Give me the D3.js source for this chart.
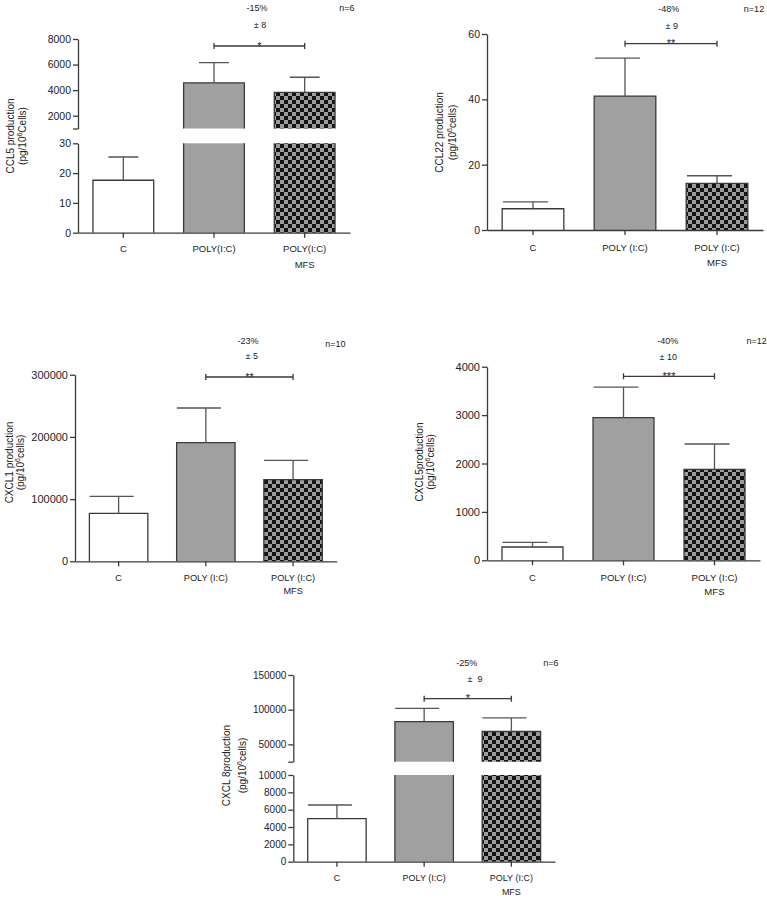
<!DOCTYPE html>
<html><head><meta charset="utf-8">
<script src="https://cdn.jsdelivr.net/npm/d3@7"></script>
<style>
body{margin:0;background:#fff}
svg{display:block}
text{font-family:"Liberation Sans",Arial,sans-serif;fill:#222}
</style>
</head><body>
<svg id="c" width="767" height="899"></svg>
<script>
// ---------------- DATA ----------------
const groupsA = ["C", "POLY(I:C)", "POLY(I:C)"];
const groupsB = ["C", "POLY (I:C)", "POLY (I:C)"];
const subGroups = ["", "", "MFS"];

const ccl5Mean  = [17.6, 4570, 3820];
const ccl5Sem   = [7.8, 1580, 1190];
const ccl22Mean = [6.5, 41.0, 14.3];
const ccl22Sem  = [2.1, 11.6, 2.3];
const cxcl1Mean = [77000, 190700, 131200];
const cxcl1Sem  = [27500, 55800, 31200];
const cxcl5Mean = [275, 2946, 1880];
const cxcl5Sem  = [97, 634, 523];
const cxcl8Mean = [4960, 82860, 68570];
const cxcl8Sem  = [1580, 19040, 19530];

const ccl5TicksLow   = [0, 10, 20, 30];
const ccl5TicksHigh  = [2000, 4000, 6000, 8000];
const ccl22Ticks     = [0, 20, 40, 60];
const cxcl1Ticks     = [0, 100000, 200000, 300000];
const cxcl5Ticks     = [0, 1000, 2000, 3000, 4000];
const cxcl8TicksLow  = [0, 2000, 4000, 6000, 8000, 10000];
const cxcl8TicksHigh = [50000, 100000, 150000];

const pctLabels  = ["-15%", "-48%", "-23%", "-40%", "-25%"];
const pmLabels   = ["\u00b1 8", "\u00b1 9", "\u00b1 5", "\u00b1 10", "\u00b1  9"];
const starLabels = ["*", "**", "**", "***", "*"];
const nLabels    = ["n=6", "n=12", "n=10", "n=12", "n=6"];
const yTitles    = ["CCL5 production", "CCL22 production", "CXCL1 production", "CXCL5production", "CXCL 8production"];
const yUnits     = ["Cells)", "cells)", "cells)", "cells)", "cells)"];

// ---------------- LAYOUT ----------------
const layouts = [
  {mean: ccl5Mean, sem: ccl5Sem, groups: groupsA, x0: 78, x1: 350,
   segments: [{dom: [0, 30], rng: [232.7, 143.3], ticks: ccl5TicksLow},
              {dom: [1000, 8000], rng: [128.5, 39], ticks: ccl5TicksHigh}],
   tickFont: 10.5, catFont: 9.5, capL: -15, capR: 15,
   bracketY: 46, pct: [257, 8], pm: [260, 25], nPos: [347, 8],
   yl1: 10, yl2: 22, ylY: 136, catY: [249, 265]},
  {mean: ccl22Mean, sem: ccl22Sem, groups: groupsB, x0: 487, x1: 763,
   segments: [{dom: [0, 60], rng: [230, 34], ticks: ccl22Ticks}],
   tickFont: 10.5, catFont: 9.5, capL: -30, capR: 15,
   bracketY: 43.7, pct: [668.7, 9], pm: [671.7, 25.7], nPos: [754, 9],
   yl1: 439, yl2: 452.7, ylY: 132.5, catY: [248, 262.7]},
  {mean: cxcl1Mean, sem: cxcl1Sem, groups: groupsB, x0: 75, x1: 336.7,
   segments: [{dom: [0, 300000], rng: [561.3, 374.7], ticks: cxcl1Ticks}],
   tickFont: 11, catFont: 9.2, capL: -29, capR: 15,
   bracketY: 377, pct: [248, 341], pm: [251.7, 356], nPos: [335.3, 344.3],
   yl1: 9.3, yl2: 20.7, ylY: 462.5, catY: [577.7, 591]},
  {mean: cxcl5Mean, sem: cxcl5Sem, groups: groupsB, x0: 487, x1: 760,
   segments: [{dom: [0, 4000], rng: [560.3, 366.7], ticks: cxcl5Ticks}],
   tickFont: 11, catFont: 9.6, capL: -30, capR: 15,
   bracketY: 376.3, pct: [667.7, 341.3], pm: [668.3, 357.3], nPos: [756.7, 341],
   yl1: 419.3, yl2: 430.7, ylY: 462, catY: [577.7, 591.7]},
  {mean: cxcl8Mean, sem: cxcl8Sem, groups: groupsB, x0: 293.3, x1: 555,
   segments: [{dom: [0, 10000], rng: [861.7, 775], ticks: cxcl8TicksLow},
              {dom: [25000, 150000], rng: [761.7, 675], ticks: cxcl8TicksHigh}],
   tickFont: 10, catFont: 9, capL: -29, capR: 15,
   bracketY: 698.7, pct: [466.7, 663.3], pm: [475, 679], nPos: [550.8, 663],
   yl1: 226.7, yl2: 242.7, ylY: 765.5, catY: [878.3, 891.7]}
];

// ---------------- DRAW ----------------
const svg = d3.select("#c");
const defs = svg.append("defs");
const cs = 4;
const pat = defs.append("pattern").attr("id", "checker")
  .attr("patternUnits", "userSpaceOnUse").attr("width", 2 * cs).attr("height", 2 * cs);
pat.append("rect").attr("width", 2 * cs).attr("height", 2 * cs).attr("fill", "#9c9c9c");
pat.append("rect").attr("width", cs).attr("height", cs).attr("fill", "#141414");
pat.append("rect").attr("x", cs).attr("y", cs).attr("width", cs).attr("height", cs).attr("fill", "#141414");

const fills = ["#ffffff", "#a0a0a0", "url(#checker)"];
const ink = "#3a3a3a";
const lw = 1.3;

layouts.forEach((p, pi) => {
  const g = svg.append("g");
  const x = d3.scaleBand().domain([0, 1, 2]).range([p.x0, p.x1])
    .paddingInner(0.33).paddingOuter(0.165);
  const bw = x.bandwidth();
  const segs = p.segments.map(s => ({...s, y: d3.scaleLinear().domain(s.dom).range(s.rng)}));

  // bars
  p.mean.forEach((m, i) => {
    const xl = x(i), xr = x(i) + bw;
    segs.forEach(s => {
      const a = s.dom[0], b = s.dom[1];
      if (m <= a && a !== 0) return;
      const top = Math.min(m, b);
      const yT = s.y(top), yB = s.y(a);
      g.append("rect").attr("x", xl).attr("y", yT).attr("width", bw).attr("height", yB - yT)
        .attr("fill", fills[i]);
      const path = m <= b
        ? `M${xl},${yB}V${yT}H${xr}V${yB}`
        : `M${xl},${yB}V${yT}M${xr},${yT}V${yB}`;
      g.append("path").attr("d", path).attr("fill", "none")
        .attr("stroke", ink).attr("stroke-width", lw);
    });
    // error bar
    const s = segs.find(s => m >= s.dom[0] && m <= s.dom[1]);
    const cx = x(i) + bw / 2;
    const yM = s.y(m), yE = s.y(m + p.sem[i]);
    g.append("path").attr("d", `M${cx},${yM}V${yE}M${cx + p.capL},${yE}H${cx + p.capR}`)
      .attr("fill", "none").attr("stroke", "#555").attr("stroke-width", lw);
  });

  // y axes
  segs.forEach((s, si) => {
    const vals = s.dom[0] === 0 ? s.ticks : [s.dom[0]].concat(s.ticks);
    const ax = d3.axisLeft(s.y).tickValues(vals).tickSize(5).tickSizeOuter(0).tickPadding(2)
      .tickFormat(d => s.ticks.includes(d) ? d3.format("d")(d) : "");
    const ga = g.append("g").attr("transform", `translate(${p.x0},0)`).call(ax);
    ga.select(".domain").attr("stroke", ink).attr("stroke-width", lw);
    ga.selectAll(".tick line").attr("stroke", ink).attr("stroke-width", lw);
    ga.selectAll(".tick text").attr("font-size", p.tickFont).attr("fill", "#222")
      .attr("font-family", '"Liberation Sans",Arial,sans-serif');
  });

  // x axis
  const baseY = segs[0].rng[0];
  const xa = d3.axisBottom(x).tickSize(5).tickSizeOuter(0).tickFormat("");
  const gx = g.append("g").attr("transform", `translate(0,${baseY})`).call(xa);
  gx.select(".domain").attr("stroke", ink).attr("stroke-width", lw);
  gx.selectAll(".tick line").attr("stroke", ink).attr("stroke-width", lw);

  // category labels
  p.groups.forEach((c, i) => {
    const cx = x(i) + bw / 2;
    g.append("text").attr("x", cx).attr("y", p.catY[0]).attr("dy", "0.35em")
      .attr("text-anchor", "middle").attr("font-size", p.catFont).text(c);
    if (subGroups[i]) {
      g.append("text").attr("x", cx).attr("y", p.catY[1]).attr("dy", "0.35em")
        .attr("text-anchor", "middle").attr("font-size", p.catFont).text(subGroups[i]);
    }
  });

  // y title
  g.append("text").attr("transform", `translate(${p.yl1},${p.ylY}) rotate(-90)`)
    .attr("text-anchor", "middle").attr("dy", "0.35em").attr("font-size", 10).text(yTitles[pi]);
  const t2 = g.append("text").attr("transform", `translate(${p.yl2},${p.ylY}) rotate(-90)`)
    .attr("text-anchor", "middle").attr("dy", "0.35em").attr("font-size", 10);
  t2.append("tspan").text("(pg/10");
  t2.append("tspan").attr("dy", -4).attr("font-size", 7).text("6");
  t2.append("tspan").attr("dy", 4).text(yUnits[pi]);

  // significance bracket
  const bx0 = x(1) + bw / 2, bx1 = x(2) + bw / 2, by = p.bracketY;
  g.append("path").attr("d", `M${bx0},${by - 3}V${by + 3}M${bx0},${by}H${bx1}M${bx1},${by - 3}V${by + 3}`)
    .attr("fill", "none").attr("stroke", ink).attr("stroke-width", lw);
  g.append("text").attr("x", (bx0 + bx1) / 2).attr("y", by + 3.5).attr("text-anchor", "middle")
    .attr("font-size", 11).text(starLabels[pi]);
  g.append("text").attr("x", p.pct[0]).attr("y", p.pct[1]).attr("dy", "0.35em")
    .attr("text-anchor", "middle").attr("font-size", 9).text(pctLabels[pi]);
  g.append("text").attr("x", p.pm[0]).attr("y", p.pm[1]).attr("dy", "0.35em")
    .attr("text-anchor", "middle").attr("font-size", 9).attr("xml:space", "preserve")
    .style("white-space", "pre").text(pmLabels[pi]);
  g.append("text").attr("x", p.nPos[0]).attr("y", p.nPos[1]).attr("dy", "0.35em")
    .attr("text-anchor", "middle").attr("font-size", 9).text(nLabels[pi]);
});
</script>
</body></html>
